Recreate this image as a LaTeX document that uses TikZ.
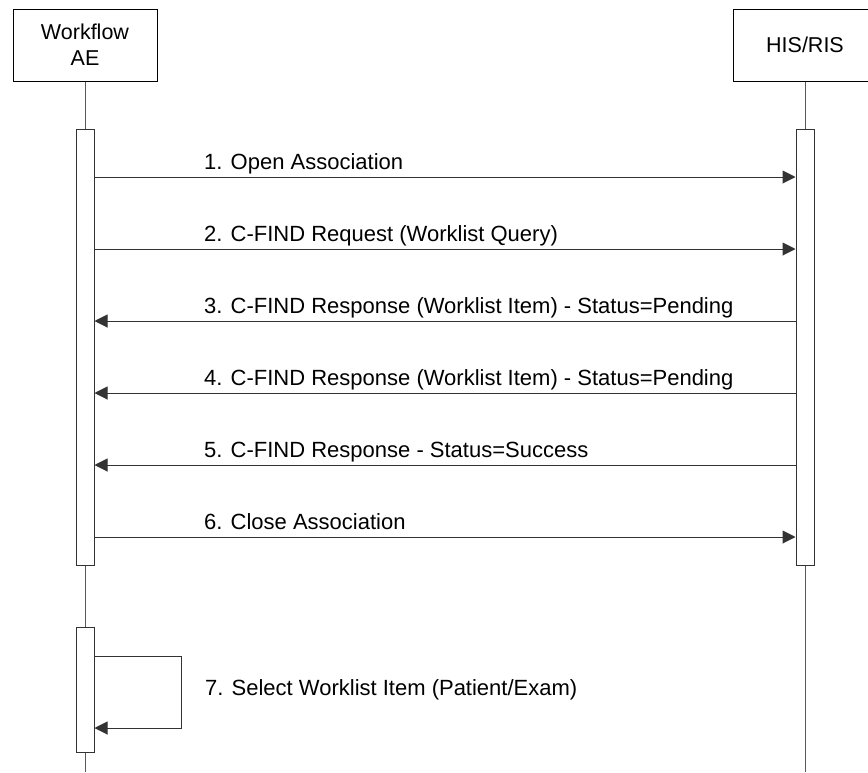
\documentclass[tikz,border=0pt]{standalone}
\usepackage{fontspec}
\setmainfont{Liberation Sans}
\usetikzlibrary{positioning,calc,arrows.meta}
\tikzset{actor/.style={draw, line width=1pt, minimum width=144pt, minimum height=72pt, align=center, font=\fontsize{21.5}{26}\selectfont}}
\tikzset{activation/.style={draw=black!80, fill=white, line width=1pt, minimum width=18pt, inner sep=0pt, anchor=north}}
\tikzset{lifeline/.style={draw=black!65, line width=1pt}}
\tikzset{msg/.style={draw=black!80, line width=1pt, -{Triangle[length=13pt,width=13pt]}}}
\tikzset{msglabel/.style={anchor=base west, inner sep=0pt, font=\fontsize{22}{26}\selectfont}}

\begin{document}
\begin{tikzpicture}[x=1pt, y=-1pt]
  \useasboundingbox (0,0) rectangle (868,772);
  \clip (0,0) rectangle (868,772);
  % actors
  \node[actor] (wf) at (85,45) {Workflow\\AE};
  \node[actor] (his) at (805,45) {HIS/RIS};
  \coordinate (wfEnd) at (85,772);
  \coordinate (hisEnd) at (805,772);
  \draw[lifeline] (wf.south) -- (wfEnd);
  \draw[lifeline] (his.south) -- (hisEnd);
  % activation bars
  \node[activation, minimum height=436pt] (wfBar) at (85,129) {};
  \node[activation, minimum height=436pt] (hisBar) at (805,129) {};
  \node[activation, minimum height=125pt] (wfSelf) at (85,627) {};
  % messages
  \foreach \i/\y/\txt in {1/177/{1. Open Association},
                          2/249/{2. C-FIND Request (Worklist Query)},
                          3/321/{3. C-FIND Response (Worklist Item) - Status=Pending},
                          4/393/{4. C-FIND Response (Worklist Item) - Status=Pending},
                          5/465/{5. C-FIND Response - Status=Success},
                          6/537/{6. Close Association}} {
    \coordinate (m\i) at (445,\y);
    \node[msglabel] (lab\i) at (204,\y-8) {\txt};
  }
  \foreach \i in {1,2,6}
    \draw[msg] (wfBar.east |- m\i) -- (hisBar.west |- m\i);
  \foreach \i in {3,4,5}
    \draw[msg] (hisBar.west |- m\i) -- (wfBar.east |- m\i);
  % self message
  \coordinate (selfTop) at (181,656);
  \coordinate (selfBot) at (181,728);
  \draw[msg] (wfSelf.east |- selfTop) -- (selfTop) -- (selfBot) -- (wfSelf.east |- selfBot);
  \node[msglabel] (lab7) at (205,695) {7. Select Worklist Item (Patient/Exam)};
\end{tikzpicture}
\end{document}
